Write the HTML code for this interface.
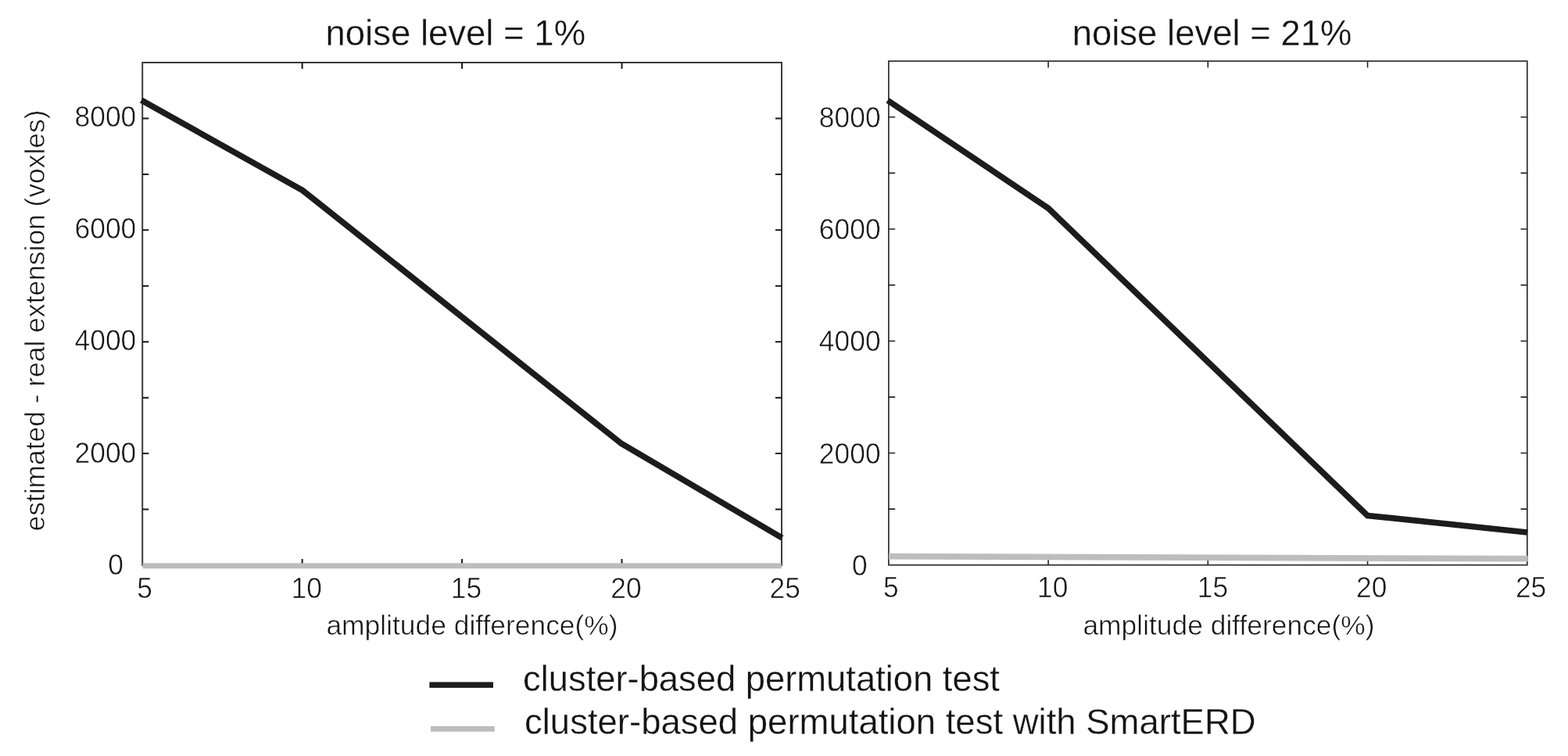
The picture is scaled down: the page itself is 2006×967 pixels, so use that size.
<!DOCTYPE html>
<html lang="en">
<head>
<meta charset="utf-8">
<title>Estimated - real extension vs amplitude difference</title>
<style>
html,body{margin:0;padding:0;background:#fff;}
body{width:2006px;height:967px;overflow:hidden;}
svg{display:block;}
text{font-family:"Liberation Sans",sans-serif;fill:#141414;stroke:#ffffff;stroke-width:0.55px;stroke-linejoin:round;}
.sm{font-size:35.4px;}
.big{font-size:45.5px;stroke-width:0.3px;}
</style>
</head>
<body>
<svg width="2006" height="967" viewBox="0 0 2006 967">
<rect x="0" y="0" width="2006" height="967" fill="#ffffff"/>
<rect x="182.2" y="80" width="817.80" height="643.00" fill="none" stroke="#3a3a3a" stroke-width="2"/>
<path d="M386.65,80v8 M386.65,723v-8 M591.10,80v8 M591.10,723v-8 M795.55,80v8 M795.55,723v-8 M182.2,651.56h8 M1000,651.56h-8 M182.2,580.11h8 M1000,580.11h-8 M182.2,508.67h8 M1000,508.67h-8 M182.2,437.22h8 M1000,437.22h-8 M182.2,365.78h8 M1000,365.78h-8 M182.2,294.33h8 M1000,294.33h-8 M182.2,222.89h8 M1000,222.89h-8 M182.2,151.44h8 M1000,151.44h-8" fill="none" stroke="#161616" stroke-width="2"/>
<polyline points="182.5,723.75 999.8,723.75" fill="none" stroke="#bdbdbd" stroke-width="7.2"/>
<polyline points="180.8,128.2 387,243.4 795,567.4 1000.5,688" fill="none" stroke="#1c1c1c" stroke-width="7.7" stroke-linejoin="miter"/>
<rect x="1136.9" y="78.2" width="816.90" height="644.50" fill="none" stroke="#2c2c2c" stroke-width="1.7"/>
<path d="M1341.12,78.2v8.3 M1341.12,722.7v-8.3 M1545.35,78.2v8.3 M1545.35,722.7v-8.3 M1749.58,78.2v8.3 M1749.58,722.7v-8.3 M1136.9,651.09h8.3 M1953.8,651.09h-8.3 M1136.9,579.48h8.3 M1953.8,579.48h-8.3 M1136.9,507.87h8.3 M1953.8,507.87h-8.3 M1136.9,436.26h8.3 M1953.8,436.26h-8.3 M1136.9,364.64h8.3 M1953.8,364.64h-8.3 M1136.9,293.03h8.3 M1953.8,293.03h-8.3 M1136.9,221.42h8.3 M1953.8,221.42h-8.3 M1136.9,149.81h8.3 M1953.8,149.81h-8.3" fill="none" stroke="#252525" stroke-width="1.6"/>
<polyline points="1137,711.6 1954.5,714.7" fill="none" stroke="#bdbdbd" stroke-width="7.8"/>
<polyline points="1135.6,128.4 1341,266.3 1749.5,659.5 1954.3,681" fill="none" stroke="#1c1c1c" stroke-width="7.7" stroke-linejoin="miter"/>
<text class="big" x="582.8" y="57.6" text-anchor="middle">noise level = 1%</text>
<text class="big" x="1550.6" y="57.9" text-anchor="middle">noise level = 21%</text>
<text class="sm" x="604" y="812" text-anchor="middle">amplitude difference(%)</text>
<text class="sm" x="1572" y="812" text-anchor="middle">amplitude difference(%)</text>
<text class="sm" transform="translate(56.5,410) rotate(-90)" text-anchor="middle">estimated - real extension (voxles)</text>
<text class="sm" transform="translate(175.3,764.8) scale(1,1.04)">5</text>
<text class="sm" transform="translate(372.6,764.8) scale(1,1.04)">10</text>
<text class="sm" transform="translate(576.8,764.8) scale(1,1.04)">15</text>
<text class="sm" transform="translate(781.2,764.8) scale(1,1.04)">20</text>
<text class="sm" transform="translate(984.6,764.8) scale(1,1.04)">25</text>
<text class="sm" transform="translate(1130.1,764.3) scale(1,1.04)">5</text>
<text class="sm" transform="translate(1327,764.3) scale(1,1.04)">10</text>
<text class="sm" transform="translate(1531.8,764.3) scale(1,1.04)">15</text>
<text class="sm" transform="translate(1735,764.3) scale(1,1.04)">20</text>
<text class="sm" transform="translate(1938.9,764.3) scale(1,1.04)">25</text>
<text class="sm" transform="translate(157.9,734.8) scale(1,1.04)" text-anchor="end">0</text>
<text class="sm" transform="translate(174.3,591.5) scale(1,1.04)" text-anchor="end">2000</text>
<text class="sm" transform="translate(174.3,448.2) scale(1,1.04)" text-anchor="end">4000</text>
<text class="sm" transform="translate(174.3,304.9) scale(1,1.04)" text-anchor="end">6000</text>
<text class="sm" transform="translate(174.3,161.6) scale(1,1.04)" text-anchor="end">8000</text>
<text class="sm" transform="translate(1109.6,735.9) scale(1,1.04)" text-anchor="end">0</text>
<text class="sm" transform="translate(1126.6,592.6) scale(1,1.04)" text-anchor="end">2000</text>
<text class="sm" transform="translate(1126.6,449.3) scale(1,1.04)" text-anchor="end">4000</text>
<text class="sm" transform="translate(1126.6,306.0) scale(1,1.04)" text-anchor="end">6000</text>
<text class="sm" transform="translate(1126.6,162.7) scale(1,1.04)" text-anchor="end">8000</text>
<text class="big" x="669" y="884" style="font-size:45.35px">cluster-based permutation test</text>
<text class="big" x="671" y="938.5">cluster-based permutation test with SmartERD</text>
<rect x="549.4" y="872.4" width="81.6" height="7.4" fill="#1c1c1c"/>
<rect x="551" y="928.8" width="81.7" height="7" fill="#bdbdbd"/>
</svg>
</body>
</html>
